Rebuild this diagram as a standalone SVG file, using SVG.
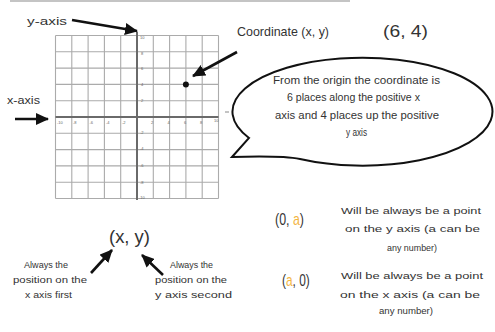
<svg xmlns="http://www.w3.org/2000/svg" width="495" height="332" viewBox="0 0 495 332">
<style>
.t{font-family:"Liberation Sans",Arial,sans-serif;fill:#333;}
.grid{stroke:#ababab;stroke-width:1.1;fill:none;}
.axis{stroke:#6a6a6a;stroke-width:2;fill:none;}
.tick{font-family:"Liberation Sans",Arial,sans-serif;font-size:4px;fill:#666;}
.arr{stroke:#111;stroke-width:2.6;fill:none;}
.or{fill:#f3b53f;}
</style>
<defs>
<marker id="ah" markerUnits="userSpaceOnUse" markerWidth="14" markerHeight="12" refX="12" refY="6" orient="auto">
<path d="M0,0 L13,6 L0,12 Z" fill="#111"/>
</marker>
</defs>
<rect width="495" height="332" fill="#fff"/>
<line x1="10" y1="1" x2="350" y2="1" stroke="#c4c4c4" stroke-width="2"/>
<line x1="225" y1="112" x2="229" y2="112" stroke="#888" stroke-width="1"/>

<g id="grid">
<path class="grid" d="M55.5,35.5V198.5M71.8,35.5V198.5M88.1,35.5V198.5M104.4,35.5V198.5M120.7,35.5V198.5M153.3,35.5V198.5M169.6,35.5V198.5M185.9,35.5V198.5M202.2,35.5V198.5M218.5,35.5V198.5"/>
<path class="grid" d="M55.5,35.5H218.5M55.5,51.8H218.5M55.5,68.1H218.5M55.5,84.4H218.5M55.5,100.7H218.5M55.5,133.3H218.5M55.5,149.6H218.5M55.5,165.9H218.5M55.5,182.2H218.5M55.5,198.5H218.5"/>
<line class="axis" x1="55.5" y1="117" x2="218.5" y2="117"/>
<line class="axis" x1="137" y1="32" x2="137" y2="200"/>
<g class="tick">
<text x="57" y="123.5">-10</text><text x="73" y="123.5">-8</text><text x="89.5" y="123.5">-6</text><text x="106" y="123.5">-4</text><text x="122" y="123.5">-2</text>
<text x="151" y="123.5">2</text><text x="167.5" y="123.5">4</text><text x="184" y="123.5">6</text><text x="200" y="123.5">8</text><text x="214" y="122">10</text>
<text x="140" y="39">10</text><text x="141" y="54.5">8</text><text x="141" y="70">6</text><text x="141" y="86">4</text><text x="141" y="102">2</text>
<text x="140" y="134">-2</text><text x="140" y="150">-4</text><text x="140" y="167">-6</text><text x="140" y="183.5">-8</text><text x="139" y="199">-10</text>
</g>
<circle cx="185.9" cy="84.4" r="3" fill="#111"/>
</g>

<g id="y-axis-label">
<text class="t" x="27" y="25" font-size="11" textLength="40" lengthAdjust="spacingAndGlyphs">y-axis</text>
</g>
<g id="x-axis-label">
<text class="t" x="7" y="104" font-size="11" textLength="33" lengthAdjust="spacingAndGlyphs">x-axis</text>
</g>
<g id="coordinate-label">
<text class="t" x="237" y="36" font-size="13" textLength="92" lengthAdjust="spacingAndGlyphs">Coordinate (x, y)</text>
<text class="t" x="383" y="37" font-size="17" textLength="45" lengthAdjust="spacingAndGlyphs">(6, 4)</text>
</g>

<g id="bubble">
<path d="M232,157 L249,138 A130,54 0 1 1 300,159 Q282,155.5 232,157 Z" fill="#fff" stroke="#111" stroke-width="2"/>
<g class="t" font-size="10">
<text x="273" y="83.5" textLength="167" lengthAdjust="spacingAndGlyphs">From the origin the coordinate is</text>
<text x="287" y="101" textLength="133" lengthAdjust="spacingAndGlyphs">6 places along the positive x</text>
<text x="275" y="118.5" textLength="164" lengthAdjust="spacingAndGlyphs">axis and 4 places up the positive</text>
<text x="346" y="135.5" textLength="21" lengthAdjust="spacingAndGlyphs">y axis</text>
</g>
</g>

<g id="xy-label">
<text class="t" x="109" y="243" font-size="19" textLength="41" lengthAdjust="spacingAndGlyphs">(x, y)</text>
</g>
<g id="x-first" class="t" font-size="9">
<text x="24" y="268" textLength="44" lengthAdjust="spacingAndGlyphs">Always the</text>
<text x="13" y="283" textLength="74" lengthAdjust="spacingAndGlyphs">position on the</text>
<text x="25" y="298" textLength="47" lengthAdjust="spacingAndGlyphs">x axis first</text>
</g>
<g id="y-second" class="t" font-size="9">
<text x="170" y="268" textLength="43" lengthAdjust="spacingAndGlyphs">Always the</text>
<text x="155" y="283" textLength="72" lengthAdjust="spacingAndGlyphs">position on the</text>
<text x="155" y="298" textLength="77" lengthAdjust="spacingAndGlyphs">y axis second</text>
</g>

<g id="zero-a">
<text class="t" transform="translate(275,225) scale(0.73,1)" font-size="17">(0, <tspan class="or">a</tspan>)</text>
<g class="t" font-size="9">
<text x="341" y="214" textLength="140" lengthAdjust="spacingAndGlyphs">Will be always be a point</text>
<text x="345" y="232" textLength="135" lengthAdjust="spacingAndGlyphs">on the y axis (a can be</text>
<text x="387" y="251" textLength="50" lengthAdjust="spacingAndGlyphs">any number)</text>
</g>
</g>
<g id="a-zero">
<text class="t" transform="translate(282,286) scale(0.7,1)" font-size="17">(<tspan class="or">a</tspan>, 0)</text>
<g class="t" font-size="9">
<text x="341" y="279" textLength="142" lengthAdjust="spacingAndGlyphs">Will be always be a point</text>
<text x="340" y="298" textLength="140" lengthAdjust="spacingAndGlyphs">on the x axis (a can be</text>
<text x="379" y="314" textLength="54" lengthAdjust="spacingAndGlyphs">any number)</text>
</g>
</g>

<g id="connectors">
<line class="arr" x1="72" y1="20" x2="137" y2="31" marker-end="url(#ah)"/>
<line class="arr" x1="15" y1="119" x2="48" y2="119" marker-end="url(#ah)"/>
<line class="arr" x1="237" y1="52" x2="193" y2="76" marker-end="url(#ah)"/>
<line class="arr" x1="91" y1="273" x2="112" y2="250" marker-end="url(#ah)"/>
<line class="arr" x1="163" y1="275" x2="142" y2="255" marker-end="url(#ah)"/>
</g>
</svg>
